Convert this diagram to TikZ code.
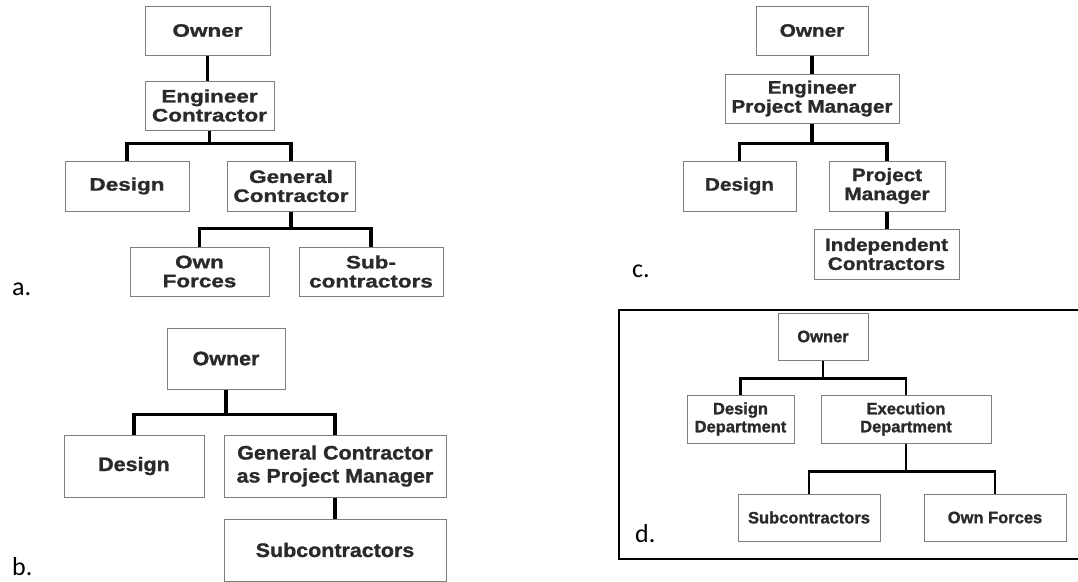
\documentclass[tikz,border=0pt]{standalone}
\usepackage{fontspec}
\setmainfont{Liberation Sans}
\newfontfamily\fa{Liberation Sans}[FakeStretch=1.25,BoldFeatures={FakeBold=1.2}]
\newfontfamily\fc{Liberation Sans}[FakeStretch=1.15,BoldFeatures={FakeBold=1.2}]
\newfontfamily\fb{Liberation Sans}[FakeStretch=1.1,BoldFeatures={FakeBold=1.2}]
\newfontfamily\fd{Liberation Sans}[BoldFeatures={FakeBold=1.2}]
\newfontfamily\lblfont{Carlito}
\definecolor{txt}{HTML}{2A2A2A}
\definecolor{bord}{HTML}{7F7F7F}
\begin{document}
\begin{tikzpicture}[x=1pt,y=-1pt,
  bx/.style={draw=bord, line width=1pt, inner sep=0pt, align=center, text=txt},
  bxa/.style={bx, font=\fa\bfseries\fontsize{18}{19}\selectfont},
  bxc/.style={bx, font=\fc\bfseries\fontsize{18}{19}\selectfont},
  bxb/.style={bx, font=\fb\bfseries\fontsize{19.5}{23}\selectfont},
  bxd/.style={bx, font=\fd\bfseries\fontsize{16.5}{18}\selectfont},
  con/.style={line width=3.5pt, black},
  cond/.style={line width=2.6pt, black},
  lab/.style={anchor=base west, inner sep=0pt, font=\lblfont\fontsize{26}{26}\selectfont}]
\clip (0,0) rectangle (1078,581);
\fill[white] (0,0) rectangle (1078,581);

% ---------- panel a ----------
\node[bxa, minimum width=125pt, minimum height=49pt] (aO) at (207.5,30.5) {Owner};
\node[bxa, minimum width=129pt, minimum height=49pt] (aE) at (209.5,105.5) {Engineer\\Contractor};
\node[bxa, minimum width=124pt, minimum height=50pt] (aD) at (127,186) {Design};
\node[bxa, minimum width=128pt, minimum height=50pt] (aG) at (291,186) {General\\Contractor};
\node[bxa, minimum width=139pt, minimum height=49pt] (aF) at (199.5,271.5) {Own\\Forces};
\node[bxa, minimum width=144pt, minimum height=49pt] (aS) at (371,271.5) {Sub-\\contractors};
\draw[con] (aO.south) -- (aO.south |- aE.north);
\draw[con] (aE.south) -- ++(0,13) coordinate (aJ1);
\draw[con] (aD.north) |- (aJ1) -| (aG.north);
\draw[con] (aG.south) -- ++(0,17) coordinate (aJ2);
\draw[con] (aF.north) |- (aJ2) -| (aS.north);
\node[lab] (la) at (12,295) {a.};

% ---------- panel b ----------
\node[bxb, minimum width=118pt, minimum height=61pt] (bO) at (226,358.5) {Owner};
\node[bxb, minimum width=140pt, minimum height=62pt] (bD) at (134,466) {Design};
\node[bxb, minimum width=222pt, minimum height=62pt] (bG) at (335,466) {General Contractor\\as Project Manager};
\node[bxb, minimum width=222pt, minimum height=62pt] (bS) at (335,550) {Subcontractors};
\draw[con, line width=3.2pt] (bO.south) -- ++(0,25) coordinate (bJ1);
\draw[con, line width=3.2pt] (bD.north) |- (bJ1) -| (bG.north);
\draw[con, line width=3.2pt] (bG.south) -- (bS.north);
\node[lab] (lb) at (12,575) {b.};

% ---------- panel c ----------
\node[bxc, minimum width=112pt, minimum height=49pt] (cO) at (812,30.5) {Owner};
\node[bxc, minimum width=174pt, minimum height=49pt] (cE) at (812,98.5) {Engineer\\Project Manager};
\node[bxc, minimum width=113pt, minimum height=50pt] (cD) at (739.5,186) {Design};
\node[bxc, minimum width=116pt, minimum height=50pt] (cP) at (887,186) {Project\\Manager};
\node[bxc, minimum width=145pt, minimum height=50pt] (cI) at (886.5,254) {Independent\\Contractors};
\draw[con] (cO.south) -- (cE.north);
\draw[con] (cE.south) -- ++(0,20) coordinate (cJ1);
\draw[con] (cD.north) |- (cJ1) -| (cP.north);
\draw[con] (cP.south) -- (cP.south |- cI.north);
\node[lab] (lc) at (632,277) {c.};

% ---------- panel d ----------
\draw[line width=2.6pt, black] (619,310) rectangle (1095,559);
\node[bxd, minimum width=90pt, minimum height=47pt] (dO) at (823,336.5) {Owner};
\node[bxd, minimum width=107pt, minimum height=48pt] (dD) at (740.5,419) {Design\\Department};
\node[bxd, minimum width=170pt, minimum height=48pt] (dE) at (906,419) {Execution\\Department};
\node[bxd, minimum width=142pt, minimum height=47pt] (dS) at (809,517.5) {Subcontractors};
\node[bxd, minimum width=142pt, minimum height=47pt] (dF) at (995,517.5) {Own Forces};
\draw[cond] (dO.south) -- ++(0,18) coordinate (dJ1);
\draw[cond] (dD.north) |- (dJ1) -| (dE.north);
\draw[cond] (dE.south) -- ++(0,28) coordinate (dJ2);
\draw[cond] (dS.north) |- (dJ2) -| (dF.north);
\node[lab] (ld) at (635,542) {d.};
\end{tikzpicture}
\end{document}
